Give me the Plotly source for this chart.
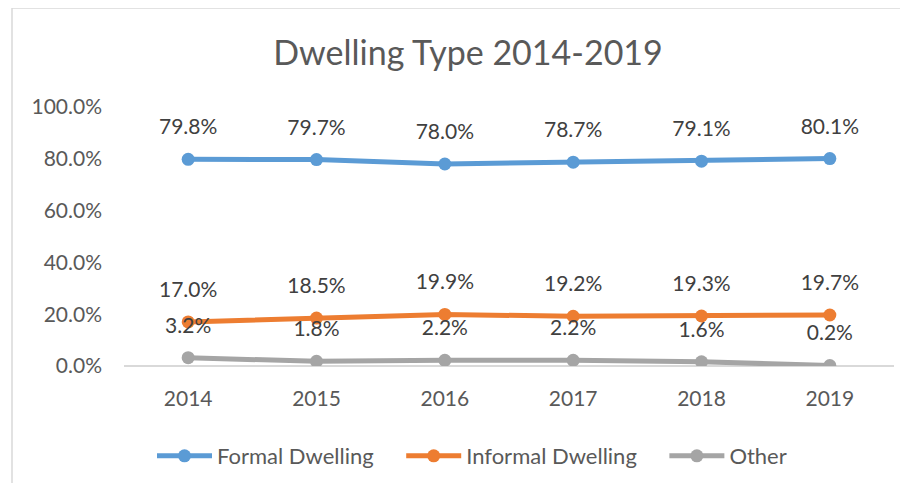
import plotly.graph_objects as go

years = ["2014", "2015", "2016", "2017", "2018", "2019"]
formal = [79.8, 79.7, 78.0, 78.7, 79.1, 80.1]
informal = [17.0, 18.5, 19.9, 19.2, 19.3, 19.7]
other = [3.2, 1.8, 2.2, 2.2, 1.6, 0.2]
y_ticks = [0, 20, 40, 60, 80, 100]
y_tick_labels = ["0.0%", "20.0%", "40.0%", "60.0%", "80.0%", "100.0%"]

series = [
    ("Formal Dwelling", formal, "#5B9BD5"),
    ("Informal Dwelling", informal, "#ED7D31"),
    ("Other", other, "#A5A5A5"),
]

FONT = "Lato"
TXT = "#595959"
FS = 21
PAD = "\u00a0" * 4  # spacing between legend entries

fig = go.Figure()
for i, (name, vals, col) in enumerate(series):
    fig.add_trace(go.Scatter(
        x=years, y=vals, name=name + (PAD if i < len(series) - 1 else ""),
        mode="lines+markers",
        line=dict(color=col, width=5),
        marker=dict(color=col, size=13),
        hoverinfo="skip",
    ))
# data labels (text-only traces drawn above all lines)
for name, vals, col in series:
    fig.add_trace(go.Scatter(
        x=years, y=vals, mode="markers+text", showlegend=False,
        text=["{:.1f}%".format(v) for v in vals], textposition="top center",
        textfont=dict(family=FONT, size=FS, color="#404040"),
        marker=dict(size=30, opacity=0, color=col),
        hoverinfo="skip",
    ))

fig.update_layout(
    width=900, height=475,
    margin=dict(l=116, r=14, t=99, b=117),
    paper_bgcolor="white", plot_bgcolor="white",
    font=dict(family=FONT, color=TXT, size=FS),
    title=dict(text="Dwelling Type 2014-2019", x=(468 - 8) / 900, xref="container", xanchor="center",
               y=1 - (53 - 8) / 475, yref="container", yanchor="middle",
               font=dict(family=FONT, size=34, color=TXT)),
    showlegend=True,
    legend=dict(orientation="h", xref="container", yref="container",
                x=(152 - 8) / 900, xanchor="left",
                y=1 - (456 - 8) / 475, yanchor="middle",
                font=dict(family=FONT, size=22, color=TXT),
                itemwidth=55, tracegroupgap=0),
    shapes=[
        dict(type="line", xref="paper", yref="paper",
             x0=(12 - 124) / 770, x1=(12 - 124) / 770, y0=-2, y1=(366 - 8) / 259,
             line=dict(color="#D9D9D9", width=1.5)),
        dict(type="line", xref="paper", yref="paper",
             x0=(12 - 124) / 770, x1=1.2, y0=(366 - 8) / 259, y1=(366 - 8) / 259,
             line=dict(color="#D9D9D9", width=1.5)),
    ],
)
fig.update_xaxes(type="category", range=[-0.5, 5.5], showgrid=False, showline=False,
                 zeroline=False, ticklabelstandoff=18,
                 tickfont=dict(family=FONT, size=FS, color=TXT))
fig.update_yaxes(range=[0, 100], tickvals=y_ticks, ticktext=y_tick_labels,
                 showgrid=False, zeroline=True, zerolinecolor="#D9D9D9",
                 zerolinewidth=1.5, showline=False, ticklabelstandoff=21,
                 tickfont=dict(family=FONT, size=FS, color=TXT))

fig.write_html("out.html")
